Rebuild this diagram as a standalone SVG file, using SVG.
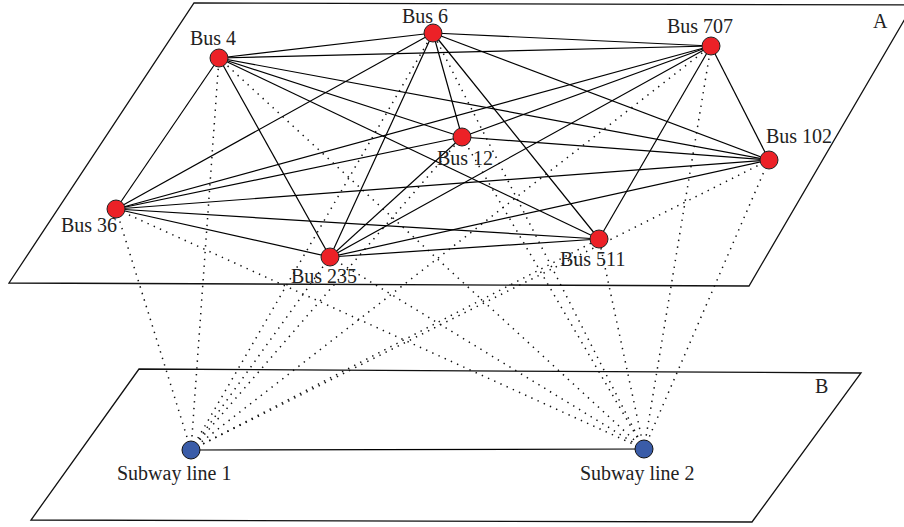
<svg xmlns="http://www.w3.org/2000/svg" width="904" height="527" viewBox="0 0 904 527">
<style>
.plane{fill:none;stroke:#111;stroke-width:1.3}
.e{stroke:#000;stroke-width:1.2;fill:none}
.d{stroke:#111;stroke-width:1.5;stroke-dasharray:1.4 5.4;fill:none}
.bus{fill:#ec2127;stroke:#222;stroke-width:1}
.sub{fill:#3a5ca8;stroke:#111;stroke-width:1}
text{font-family:"Liberation Serif","Times New Roman",serif;font-size:20px;fill:#222}
</style>
<g id="planes">
<polygon class="plane" points="194,3 913,5 749,286 9,283"/>
<polygon class="plane" points="139,369 861,373 752,522 31,520"/>
<text x="873" y="28">A</text>
<text x="815" y="393">B</text>
</g>
<g id="connectors">
<g id="dotted">
<line class="d" x1="191" y1="450" x2="219" y2="58"/>
<line class="d" x1="191" y1="450" x2="433" y2="33"/>
<line class="d" x1="191" y1="450" x2="116" y2="209"/>
<line class="d" x1="191" y1="450" x2="330" y2="257"/>
<line class="d" x1="191" y1="450" x2="462" y2="137"/>
<line class="d" x1="191" y1="450" x2="711" y2="46"/>
<line class="d" x1="191" y1="450" x2="769" y2="160"/>
<line class="d" x1="191" y1="450" x2="599" y2="239"/>
<line class="d" x1="644" y1="449" x2="219" y2="58"/>
<line class="d" x1="644" y1="449" x2="433" y2="33"/>
<line class="d" x1="644" y1="449" x2="116" y2="209"/>
<line class="d" x1="644" y1="449" x2="330" y2="257"/>
<line class="d" x1="644" y1="449" x2="462" y2="137"/>
<line class="d" x1="644" y1="449" x2="711" y2="46"/>
<line class="d" x1="644" y1="449" x2="769" y2="160"/>
<line class="d" x1="644" y1="449" x2="599" y2="239"/>
</g>
<g id="solid">
<line class="e" x1="191" y1="450" x2="644" y2="449"/>
<line class="e" x1="219" y1="58" x2="433" y2="33"/>
<line class="e" x1="219" y1="58" x2="711" y2="46"/>
<line class="e" x1="219" y1="58" x2="769" y2="160"/>
<line class="e" x1="219" y1="58" x2="462" y2="137"/>
<line class="e" x1="219" y1="58" x2="599" y2="239"/>
<line class="e" x1="219" y1="58" x2="116" y2="209"/>
<line class="e" x1="219" y1="58" x2="330" y2="257"/>
<line class="e" x1="433" y1="33" x2="711" y2="46"/>
<line class="e" x1="433" y1="33" x2="769" y2="160"/>
<line class="e" x1="433" y1="33" x2="462" y2="137"/>
<line class="e" x1="433" y1="33" x2="599" y2="239"/>
<line class="e" x1="433" y1="33" x2="116" y2="209"/>
<line class="e" x1="433" y1="33" x2="330" y2="257"/>
<line class="e" x1="711" y1="46" x2="769" y2="160"/>
<line class="e" x1="711" y1="46" x2="599" y2="239"/>
<line class="e" x1="711" y1="46" x2="462" y2="137"/>
<line class="e" x1="711" y1="46" x2="116" y2="209"/>
<line class="e" x1="711" y1="46" x2="330" y2="257"/>
<line class="e" x1="462" y1="137" x2="769" y2="160"/>
<line class="e" x1="462" y1="137" x2="116" y2="209"/>
<line class="e" x1="462" y1="137" x2="330" y2="257"/>
<line class="e" x1="769" y1="160" x2="116" y2="209"/>
<line class="e" x1="769" y1="160" x2="330" y2="257"/>
<line class="e" x1="116" y1="209" x2="599" y2="239"/>
<line class="e" x1="116" y1="209" x2="330" y2="257"/>
<line class="e" x1="330" y1="257" x2="599" y2="239"/>
</g>
</g>
<g id="bus4"><circle class="bus" cx="219" cy="58" r="9"/><text x="190" y="45">Bus 4</text></g>
<g id="bus6"><circle class="bus" cx="433" cy="33" r="9"/><text x="402" y="23">Bus 6</text></g>
<g id="bus707"><circle class="bus" cx="711" cy="46" r="9"/><text x="667" y="33">Bus 707</text></g>
<g id="bus12"><circle class="bus" cx="462" cy="137" r="9"/><text x="437" y="165">Bus 12</text></g>
<g id="bus102"><circle class="bus" cx="769" cy="160" r="9"/><text x="766" y="143">Bus 102</text></g>
<g id="bus36"><circle class="bus" cx="116" cy="209" r="9"/><text x="61" y="232">Bus 36</text></g>
<g id="bus235"><circle class="bus" cx="330" cy="257" r="9"/><text x="291" y="283">Bus 235</text></g>
<g id="bus511"><circle class="bus" cx="599" cy="239" r="9"/><text x="560" y="266">Bus 511</text></g>
<g id="subway1"><circle class="sub" cx="191" cy="450" r="9"/><text x="117" y="480">Subway line 1</text></g>
<g id="subway2"><circle class="sub" cx="644" cy="449" r="9"/><text x="580" y="480">Subway line 2</text></g>
</svg>
